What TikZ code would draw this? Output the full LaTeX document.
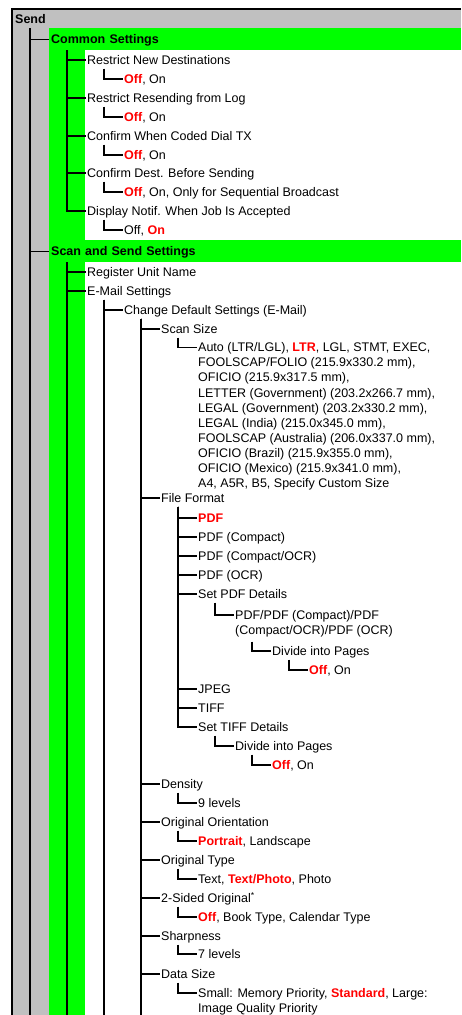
\documentclass[tikz,border=0pt]{standalone}
\usepackage{fontspec}
\setmainfont{Liberation Sans}
\usetikzlibrary{calc}
\definecolor{bandgray}{RGB}{192,192,192}
\definecolor{bandgreen}{RGB}{0,255,0}
\definecolor{dfltred}{RGB}{255,0,0}
\newcommand{\defval}[1]{{\color{dfltred}\bfseries #1}}

\begin{document}
\begin{tikzpicture}[x=1pt, y=-1pt, font=\fontsize{12.5}{15.1}\selectfont,
		item/.style={anchor=west, inner sep=0pt, inner xsep=1pt, text height=9pt, text depth=0pt},
		items/.style={anchor=north west, inner sep=0pt, inner xsep=1pt, align=left},
		band/.style={anchor=north west, inner sep=0pt, inner xsep=2pt, text height=9pt, text depth=0pt, align=left, font=\fontsize{12.5}{15.1}\selectfont\bfseries},
		link/.style={line width=1.1pt}]
		\useasboundingbox (0,0) rectangle (461,1015);
		\fill [bandgray] (13,10) rectangle (49,1015);
		\fill [bandgreen] (49,28) rectangle (85,1015);
		\node [band, fill=bandgray, text width=444pt, minimum height=18pt] (send) at (13,10) {Send};
		\node [band, fill=bandgreen, text width=408pt, minimum height=22pt] (cs) at (49,28) {Common Settings};
		\node [band, fill=bandgreen, text width=408pt, minimum height=22pt] (ssb) at (49,240) {Scan and Send Settings};
		\draw [line width=2pt] (12,1015) -- (12,9) -- (461,9);
		\coordinate (bot-a) at (30,1015);
		\coordinate (bot-b) at (67,1015);
		\coordinate (bot-c) at (104,1015);
		\coordinate (bot-d) at (141,1015);

		% Common Settings
		\node [item] (rnd) at (86,60) {Restrict New Destinations};
		\node [item] (rnd-v) at (123,79) {\defval{Off}, On};
		\node [item] (rrl) at (86,98) {Restrict Resending from Log};
		\node [item] (rrl-v) at (123,117) {\defval{Off}, On};
		\node [item] (cwc) at (86,136) {Confirm When Coded Dial TX};
		\node [item] (cwc-v) at (123,155) {\defval{Off}, On};
		\node [item] (cdb) at (86,173) {Confirm Dest. Before Sending};
		\node [item] (cdb-v) at (123,192) {\defval{Off}, On, Only for Sequential Broadcast};
		\node [item] (dnj) at (86,211) {Display Notif. When Job Is Accepted};
		\node [item] (dnj-v) at (123,230) {Off, \defval{On}};

		% Scan and Send Settings
		\node [item] (run) at (86,272) {Register Unit Name};
		\node [item] (ems) at (86,291) {E-Mail Settings};
		\node [item] (cds) at (123,310) {Change Default Settings (E-Mail)};
		\node [item] (ssz) at (160,329) {Scan Size};
		\node [items] (ssz-v) at (197,342.5) {Auto (LTR/LGL), \defval{LTR}, LGL, STMT, EXEC,\\
			FOOLSCAP/FOLIO (215.9x330.2 mm),\\
			OFICIO (215.9x317.5 mm),\\
			LETTER (Government) (203.2x266.7 mm),\\
			LEGAL (Government) (203.2x330.2 mm),\\
			LEGAL (India) (215.0x345.0 mm),\\
			FOOLSCAP (Australia) (206.0x337.0 mm),\\
			OFICIO (Brazil) (215.9x355.0 mm),\\
			OFICIO (Mexico) (215.9x341.0 mm),\\
			A4, A5R, B5, Specify Custom Size};
		\node [item] (ffm) at (160,498) {File Format};
		\node [item] (pdf) at (197,518) {\defval{PDF}};
		\node [item] (pdfc) at (197,537) {PDF (Compact)};
		\node [item] (pdfco) at (197,556) {PDF (Compact/OCR)};
		\node [item] (pdfo) at (197,575) {PDF (OCR)};
		\node [item] (spd) at (197,594) {Set PDF Details};
		\node [items] (spd-v) at (234,610.4) {PDF/PDF (Compact)/PDF\\(Compact/OCR)/PDF (OCR)};
		\node [item] (dip1) at (271,651) {Divide into Pages};
		\node [item] (dip1-v) at (308,670) {\defval{Off}, On};
		\node [item] (jpg) at (197,689) {JPEG};
		\node [item] (tif) at (197,708) {TIFF};
		\node [item] (std) at (197,727) {Set TIFF Details};
		\node [item] (dip2) at (234,746) {Divide into Pages};
		\node [item] (dip2-v) at (271,765) {\defval{Off}, On};
		\node [item] (den) at (160,784) {Density};
		\node [item] (den-v) at (197,803) {9 levels};
		\node [item] (ori) at (160,822) {Original Orientation};
		\node [item] (ori-v) at (197,841) {\defval{Portrait}, Landscape};
		\node [item] (oty) at (160,860) {Original Type};
		\node [item] (oty-v) at (197,879) {Text, \defval{Text/Photo}, Photo};
		\node [item] (tso) at (160,898) {2-Sided Original\textsuperscript{*}};
		\node [item] (tso-v) at (197,917) {\defval{Off}, Book Type, Calendar Type};
		\node [item] (shp) at (160,936) {Sharpness};
		\node [item] (shp-v) at (197,954) {7 levels};
		\node [item] (dsz) at (160,974) {Data Size};
		\node [items] (dsz-v) at (197,988.4) {Small: Memory Priority, \defval{Standard}, Large:\\Image Quality Priority};

		% top levels
		\draw [link] ($(send.south west)+(17,0)$) -- (bot-a);
		\draw [link] ($(send.south west)+(17,0)$) |- (cs.west);
		\draw [link] ($(send.south west)+(17,0)$) |- (ssb.west);

		\draw [link] ($(cs.south west)+(18,0)$) |- (rnd.west);
		\draw [link] ($(cs.south west)+(18,0)$) |- (rrl.west);
		\draw [link] ($(cs.south west)+(18,0)$) |- (cwc.west);
		\draw [link] ($(cs.south west)+(18,0)$) |- (cdb.west);
		\draw [link] ($(cs.south west)+(18,0)$) |- (dnj.west);
		\draw [link] ($(rnd.south west)+(18,4)$) |- (rnd-v.west);
		\draw [link] ($(rrl.south west)+(18,4)$) |- (rrl-v.west);
		\draw [link] ($(cwc.south west)+(18,4)$) |- (cwc-v.west);
		\draw [link] ($(cdb.south west)+(18,4)$) |- (cdb-v.west);
		\draw [link] ($(dnj.south west)+(18,4)$) |- (dnj-v.west);

		\draw [link] ($(ssb.south west)+(18,0)$) -- (bot-b);
		\draw [link] ($(ssb.south west)+(18,0)$) |- (run.west);
		\draw [link] ($(ssb.south west)+(18,0)$) |- (ems.west);
		\draw [link] ($(ems.south west)+(18,4)$) -- (bot-c);
		\draw [link] ($(ems.south west)+(18,4)$) |- (cds.west);

		% Change Default Settings (E-Mail)
		\draw [link] ($(cds.south west)+(18,4)$) -- (bot-d);
		\draw [link] ($(cds.south west)+(18,4)$) |- (ssz.west);
		\draw [link] ($(cds.south west)+(18,4)$) |- (ffm.west);
		\draw [link] ($(cds.south west)+(18,4)$) |- (den.west);
		\draw [link] ($(cds.south west)+(18,4)$) |- (ori.west);
		\draw [link] ($(cds.south west)+(18,4)$) |- (oty.west);
		\draw [link] ($(cds.south west)+(18,4)$) |- (tso.west);
		\draw [link] ($(cds.south west)+(18,4)$) |- (shp.west);
		\draw [link] ($(cds.south west)+(18,4)$) |- (dsz.west);
		\draw [link] ($(ssz.south west)+(18,4)$) |- ([yshift=-4.6pt]ssz-v.north west);

		\draw [link] ($(ffm.south west)+(18,4)$) |- (pdf.west);
		\draw [link] ($(ffm.south west)+(18,4)$) |- (pdfc.west);
		\draw [link] ($(ffm.south west)+(18,4)$) |- (pdfco.west);
		\draw [link] ($(ffm.south west)+(18,4)$) |- (pdfo.west);
		\draw [link] ($(ffm.south west)+(18,4)$) |- (spd.west);
		\draw [link] ($(ffm.south west)+(18,4)$) |- (jpg.west);
		\draw [link] ($(ffm.south west)+(18,4)$) |- (tif.west);
		\draw [link] ($(ffm.south west)+(18,4)$) |- (std.west);
		\draw [link] ($(spd.south west)+(18,4)$) |- ([yshift=-4.6pt]spd-v.north west);
		\draw [link] ($(spd-v.south west)+(18,4)$) |- (dip1.west);
		\draw [link] ($(dip1.south west)+(18,4)$) |- (dip1-v.west);
		\draw [link] ($(std.south west)+(18,4)$) |- (dip2.west);
		\draw [link] ($(dip2.south west)+(18,4)$) |- (dip2-v.west);

		\draw [link] ($(den.south west)+(18,4)$) |- (den-v.west);
		\draw [link] ($(ori.south west)+(18,4)$) |- (ori-v.west);
		\draw [link] ($(oty.south west)+(18,4)$) |- (oty-v.west);
		\draw [link] ($(tso.south west)+(18,4)$) |- (tso-v.west);
		\draw [link] ($(shp.south west)+(18,4)$) |- (shp-v.west);
		\draw [link] ($(dsz.south west)+(18,4)$) |- ([yshift=-4.6pt]dsz-v.north west);
\end{tikzpicture}
\end{document}
